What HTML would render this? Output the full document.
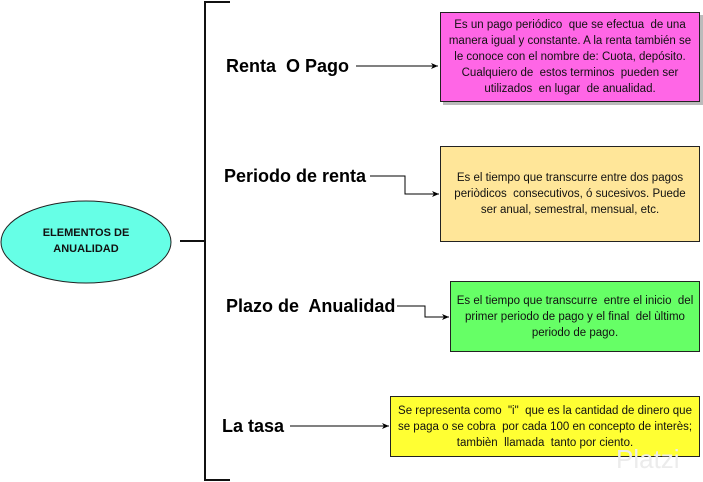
<!DOCTYPE html>
<html><head><meta charset="utf-8"><style>
body{margin:0;width:703px;height:482px;background:#fff;position:relative;overflow:hidden;font-family:"Liberation Sans",sans-serif}
.lbl{position:absolute;font-weight:bold;font-size:18px;color:#000;white-space:pre;line-height:20px}
.box{position:absolute;border:1px solid #222;box-sizing:border-box;display:flex;align-items:center;justify-content:center;text-align:center;font-size:11.5px;line-height:16px;color:#111;white-space:pre}
</style></head><body>
<svg width="703" height="482" style="position:absolute;left:0;top:0">
<defs><marker id="a" markerWidth="8" markerHeight="8" refX="7" refY="4" orient="auto" markerUnits="userSpaceOnUse"><path d="M0,1 L7,4 L0,7 L2,4z" fill="#000"/></marker></defs>
<path d="M230,2 H205 V480 H230" fill="none" stroke="#111" stroke-width="2"/>
<line x1="180" y1="241" x2="205" y2="241" stroke="#111" stroke-width="2"/>
<ellipse cx="86" cy="242" rx="85" ry="41" fill="#66ffe6" stroke="#222" stroke-width="1"/>
<rect x="443" y="15" width="260" height="90" fill="#bbb"/>
<line x1="356" y1="66" x2="438" y2="66" stroke="#000" marker-end="url(#a)"/>
<path d="M370,176 H405 V194 H439" fill="none" stroke="#000" marker-end="url(#a)"/>
<path d="M397,306 H425 V317 H449" fill="none" stroke="#000" marker-end="url(#a)"/>
<line x1="290" y1="426" x2="389" y2="426" stroke="#000" marker-end="url(#a)"/>
</svg>
<div style="position:absolute;left:1px;top:225px;width:170px;text-align:center;font-weight:bold;font-size:11px;line-height:16px;color:#111">ELEMENTOS DE<br>ANUALIDAD</div>
<div class="lbl" style="left:226px;top:56px">Renta  O Pago</div>
<div class="lbl" style="left:224px;top:166px">Periodo de renta</div>
<div class="lbl" style="left:226px;top:296px">Plazo de  Anualidad</div>
<div class="lbl" style="left:222px;top:416px">La tasa</div>
<div class="box" style="left:440px;top:12px;width:260px;height:90px;background:#ff66e6">Es un pago periódico  que se efectua  de una
manera igual y constante. A la renta también se
le conoce con el nombre de: Cuota, depósito.
Cualquiero de  estos terminos  pueden ser
utilizados  en lugar  de anualidad.</div>
<div class="box" style="left:440px;top:146px;width:260px;height:96px;background:#ffe699">Es el tiempo que transcurre entre dos pagos
periòdicos  consecutivos, ó sucesivos. Puede
ser anual, semestral, mensual, etc.</div>
<div class="box" style="left:450px;top:281px;width:250px;height:71px;background:#66ff66">Es el tiempo que transcurre  entre el inicio  del
primer periodo de pago y el final  del ùltimo
periodo de pago.</div>
<div class="box" style="left:390px;top:396px;width:310px;height:61px;background:#ffff33">Se representa como  "i"  que es la cantidad de dinero que
se paga o se cobra  por cada 100 en concepto de interès;
tambièn  llamada  tanto por ciento.</div>
<div style="position:absolute;left:616px;top:444px;font-size:26px;color:#ececec">Platzi</div>
</body></html>
